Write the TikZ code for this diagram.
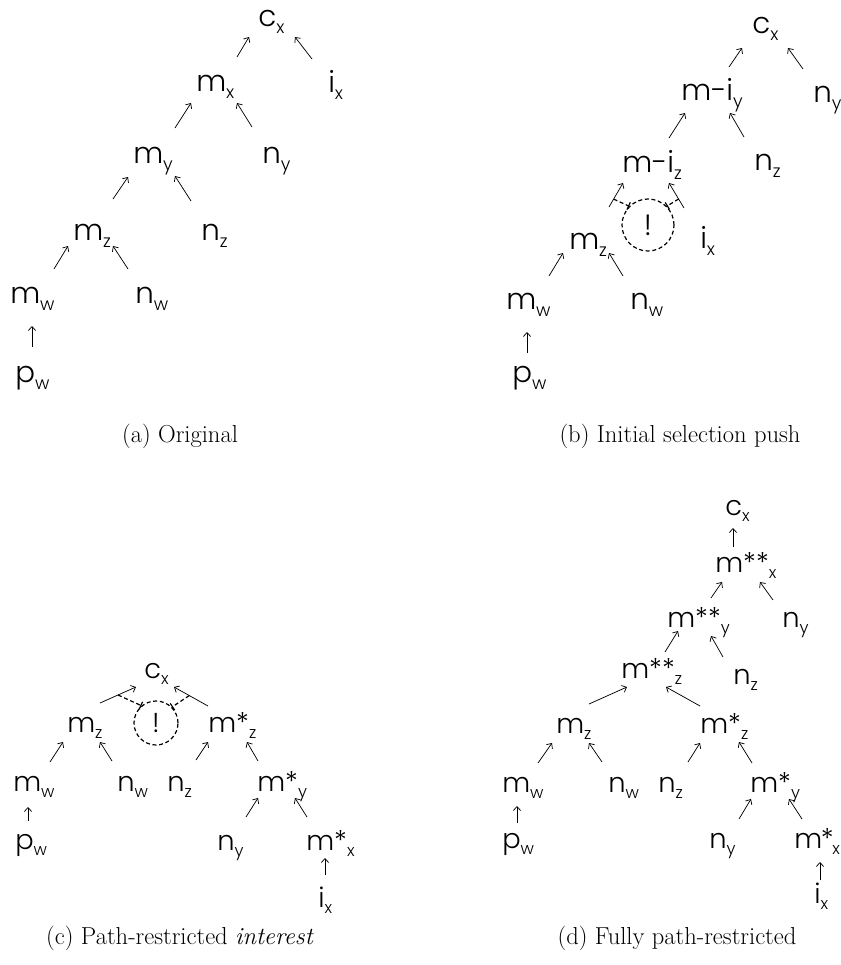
\documentclass[tikz,border=0pt]{standalone}
\usepackage{fontspec}
\newfontfamily\gf{Poppins Light}
\usetikzlibrary{arrows.meta,calc}
\newcommand\lbl[2]{#1\raisebox{-0.24em}{\scalebox{0.6}{#2}}}
\tikzset{
  labbig/.style={inner sep=0pt, anchor=base west, font=\gf\fontsize{22}{26}\selectfont},
  labsml/.style={inner sep=0pt, anchor=base west, font=\gf\fontsize{20.5}{24}\selectfont},
  arr/.style={-{Straight Barb[length=3pt,width=5.5pt]}, line width=0.55pt},
  warn/.style={circle, draw, dashed, dash pattern=on 3pt off 2pt, line width=0.9pt, inner sep=0pt},
  dsh/.style={dashed, dash pattern=on 3pt off 2pt, line width=0.9pt, -{Bar[width=6pt,line width=0.9pt]}},
  capt/.style={inner sep=0pt, anchor=base, font=\fontsize{18.4}{22}\selectfont}
}
\begin{document}
\begin{tikzpicture}[x=0.75pt,y=-0.75pt]
\useasboundingbox[fill=white] (0,0) rectangle (841,965);
% ---------------- (a)
\node[labbig] (acx) at (258,26) {\lbl{c}{x}};
\node[labbig] (amx) at (196,91) {\lbl{m}{x}};
\node[labbig] (aix) at (328,92) {\lbl{i}{x}};
\node[labbig] (amy) at (133,163) {\lbl{m}{y}};
\node[labbig] (any) at (262,163) {\lbl{n}{y}};
\node[labbig] (amz) at (73,240) {\lbl{m}{z}};
\node[labbig] (anz) at (201,240) {\lbl{n}{z}};
\node[labbig] (amw) at (10,303) {\lbl{m}{w}};
\node[labbig] (anw) at (135,303) {\lbl{n}{w}};
\node[labbig] (apw) at (15,382) {\lbl{p}{w}};
\draw[arr] ([shift={(237-196,57-91)}]amx.base west) -- ([shift={(249-258,37-26)}]acx.base west);
\draw[arr] ([shift={(312-328,59-92)}]aix.base west) -- ([shift={(295-258,37-26)}]acx.base west);
\draw[arr] ([shift={(175-133,128-163)}]amy.base west) -- ([shift={(191-196,103-91)}]amx.base west);
\draw[arr] ([shift={(252-262,127-163)}]any.base west) -- ([shift={(237-196,103-91)}]amx.base west);
\draw[arr] ([shift={(113-73,199-240)}]amz.base west) -- ([shift={(128-133,177-163)}]amy.base west);
\draw[arr] ([shift={(191-201,201-240)}]anz.base west) -- ([shift={(175-133,176-163)}]amy.base west);
\draw[arr] ([shift={(54-10,269-303)}]amw.base west) -- ([shift={(68-73,246-240)}]amz.base west);
\draw[arr] ([shift={(128-135,269-303)}]anw.base west) -- ([shift={(113-73,246-240)}]amz.base west);
\draw[arr] ([shift={(32-15,347-382)}]apw.base west) -- ([shift={(32-10,326-303)}]amw.base west);
\node[capt] (capa) at (180,442) {(a) Original};
% ---------------- (b)
\node[labbig] (bcx) at (752,33) {\lbl{c}{x}};
\node[labbig] (bny) at (813,102) {\lbl{n}{y}};
\node[labbig] (bmiy) at (681,100) {\lbl{m-i}{y}};
\node[labbig] (bnz) at (754,170) {\lbl{n}{z}};
\node[labbig] (bmiz) at (622,172) {\lbl{m-i}{z}};
\node[labbig] (bmz) at (569,249) {\lbl{m}{z}};
\node[labbig] (bix) at (700,248) {\lbl{i}{x}};
\node[labbig] (bmw) at (506,309) {\lbl{m}{w}};
\node[labbig] (bnw) at (630,309) {\lbl{n}{w}};
\node[labbig] (bpw) at (512,382) {\lbl{p}{w}};
\node[warn, minimum size=39pt, font=\gf\fontsize{22}{26}\selectfont] (bc) at (648,225) {!};
\draw[arr] ([shift={(729-681,67-100)}]bmiy.base west) -- ([shift={(742-752,48-33)}]bcx.base west);
\draw[arr] ([shift={(803-813,69-102)}]bny.base west) -- ([shift={(788-752,48-33)}]bcx.base west);
\draw[arr] ([shift={(669-622,138-172)}]bmiz.base west) -- ([shift={(685-681,113-100)}]bmiy.base west);
\draw[arr] ([shift={(744-754,137-170)}]bnz.base west) -- ([shift={(730-681,113-100)}]bmiy.base west);
\draw[arr] ([shift={(609-569,207-249)}]bmz.base west) -- coordinate[pos=0.33] (bk1) ([shift={(623-622,183-172)}]bmiz.base west);
\draw[arr] ([shift={(684-700,208-248)}]bix.base west) -- coordinate[pos=0.36] (bk2) ([shift={(669-622,183-172)}]bmiz.base west);
\draw[arr] ([shift={(549-506,276-309)}]bmw.base west) -- ([shift={(563-569,253-249)}]bmz.base west);
\draw[arr] ([shift={(623-630,276-309)}]bnw.base west) -- ([shift={(609-569,253-249)}]bmz.base west);
\draw[arr] ([shift={(527-512,353-382)}]bpw.base west) -- ([shift={(527-506,332-309)}]bmw.base west);
\draw[dsh] (bk1) -- (bc.135);
\draw[dsh] (bk2) -- (bc.45);
\node[capt] (capb) at (680,442) {(b) Initial selection push};
% ---------------- (c)
\node[labsml] (ccx) at (144,678) {\lbl{c}{x}};
\node[labsml] (cmz) at (67,732) {\lbl{m}{z}};
\node[labsml] (cmsz) at (208,732) {\lbl{m*}{z}};
\node[labsml] (cmw) at (13,791) {\lbl{m}{w}};
\node[labsml] (cnw) at (117,791) {\lbl{n}{w}};
\node[labsml] (cnz) at (167,791) {\lbl{n}{z}};
\node[labsml] (cmsy) at (257,791) {\lbl{m*}{y}};
\node[labsml] (cny) at (217,850) {\lbl{n}{y}};
\node[labsml] (cmsx) at (306,850) {\lbl{m*}{x}};
\node[labsml] (cix) at (318,907) {\lbl{i}{x}};
\node[labsml] (cpw) at (15,849) {\lbl{p}{w}};
\node[warn, minimum size=33pt, font=\gf\fontsize{20.5}{24}\selectfont] (cc) at (156,723) {!};
\draw[arr] ([shift={(100-67,703-732)}]cmz.base west) -- coordinate[pos=0.5] (ck1) ([shift={(136-144,687-678)}]ccx.base west);
\draw[arr] ([shift={(208-208,706-732)}]cmsz.base west) -- coordinate[pos=0.55] (ck2) ([shift={(174-144,687-678)}]ccx.base west);
\draw[arr] ([shift={(50-13,762-791)}]cmw.base west) -- ([shift={(63-67,742-732)}]cmz.base west);
\draw[arr] ([shift={(112-117,761-791)}]cnw.base west) -- ([shift={(100-67,742-732)}]cmz.base west);
\draw[arr] ([shift={(196-167,760-791)}]cnz.base west) -- ([shift={(208-208,742-732)}]cmsz.base west);
\draw[arr] ([shift={(258-257,761-791)}]cmsy.base west) -- ([shift={(247-208,742-732)}]cmsz.base west);
\draw[arr] ([shift={(246-217,817-850)}]cny.base west) -- ([shift={(258-257,798-791)}]cmsy.base west);
\draw[arr] ([shift={(307-306,817-850)}]cmsx.base west) -- ([shift={(295-257,798-791)}]cmsy.base west);
\draw[arr] ([shift={(325-318,875-907)}]cix.base west) -- ([shift={(325-306,858-850)}]cmsx.base west);
\draw[arr] ([shift={(28-15,821-849)}]cpw.base west) -- ([shift={(28-13,807-791)}]cmw.base west);
\draw[dsh] (ck1) -- (cc.130);
\draw[dsh] (ck2) -- (cc.45);
\node[capt] (capc) at (180,944) {(c) Path-restricted \textit{interest}};
% ---------------- (d)
\node[labsml] (dcx) at (725,515) {\lbl{c}{x}};
\node[labsml] (dmx) at (715,572) {\lbl{m**}{x}};
\node[labsml] (dmy) at (667,627) {\lbl{m**}{y}};
\node[labsml] (dny) at (782,627) {\lbl{n}{y}};
\node[labsml] (dmzz) at (621,678) {\lbl{m**}{z}};
\node[labsml] (dnz) at (733,684) {\lbl{n}{z}};
\node[labsml] (dmz) at (556,733) {\lbl{m}{z}};
\node[labsml] (dmsz) at (700,733) {\lbl{m*}{z}};
\node[labsml] (dmw) at (502,792) {\lbl{m}{w}};
\node[labsml] (dnw) at (608,792) {\lbl{n}{w}};
\node[labsml] (dnzz) at (658,792) {\lbl{n}{z}};
\node[labsml] (dmsy) at (750,792) {\lbl{m*}{y}};
\node[labsml] (dpw) at (502,848) {\lbl{p}{w}};
\node[labsml] (dnyy) at (709,848) {\lbl{n}{y}};
\node[labsml] (dmsx) at (794,848) {\lbl{m\kern-1pt*\kern-1pt}{x}};
\node[labsml] (dix) at (814,903) {\lbl{i}{x}};
\draw[arr] ([shift={(733-715,547-572)}]dmx.base west) -- ([shift={(733-725,528-515)}]dcx.base west);
\draw[arr] ([shift={(711-667,598-627)}]dmy.base west) -- ([shift={(722-715,582-572)}]dmx.base west);
\draw[arr] ([shift={(773-782,600-627)}]dny.base west) -- ([shift={(760-715,582-572)}]dmx.base west);
\draw[arr] ([shift={(665-621,652-678)}]dmzz.base west) -- ([shift={(678-667,631-627)}]dmy.base west);
\draw[arr] ([shift={(723-733,657-684)}]dnz.base west) -- ([shift={(711-667,636-627)}]dmy.base west);
\draw[arr] ([shift={(589-556,704-733)}]dmz.base west) -- ([shift={(627-621,687-678)}]dmzz.base west);
\draw[arr] ([shift={(700-700,706-733)}]dmsz.base west) -- ([shift={(666-621,687-678)}]dmzz.base west);
\draw[arr] ([shift={(538-502,763-792)}]dmw.base west) -- ([shift={(552-556,743-733)}]dmz.base west);
\draw[arr] ([shift={(602-608,762-792)}]dnw.base west) -- ([shift={(589-556,743-733)}]dmz.base west);
\draw[arr] ([shift={(688-658,762-792)}]dnzz.base west) -- ([shift={(700-700,743-733)}]dmsz.base west);
\draw[arr] ([shift={(752-750,763-792)}]dmsy.base west) -- ([shift={(739-700,742-733)}]dmsz.base west);
\draw[arr] ([shift={(517-502,823-848)}]dpw.base west) -- ([shift={(517-502,806-792)}]dmw.base west);
\draw[arr] ([shift={(739-709,819-848)}]dnyy.base west) -- ([shift={(751-750,799-792)}]dmsy.base west);
\draw[arr] ([shift={(802-794,819-848)}]dmsx.base west) -- ([shift={(789-750,799-792)}]dmsy.base west);
\draw[arr] ([shift={(820-814,880-903)}]dix.base west) -- ([shift={(820-794,862-848)}]dmsx.base west);
\node[capt] (capd) at (677,944) {(d) Fully path-restricted};
\end{tikzpicture}
\end{document}
